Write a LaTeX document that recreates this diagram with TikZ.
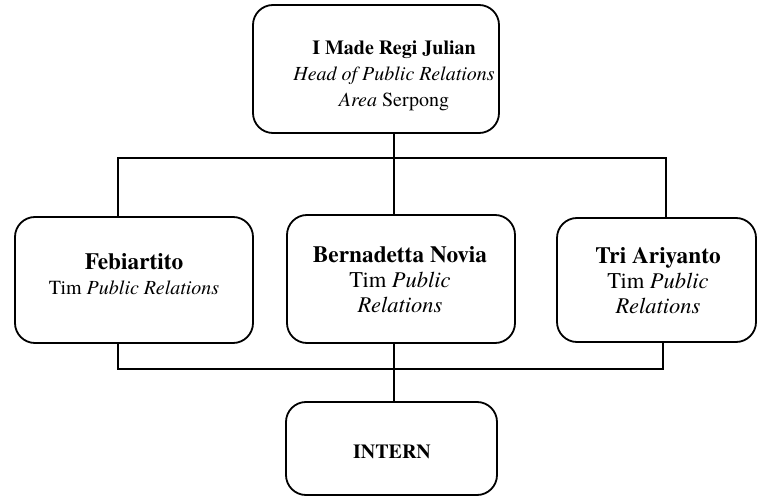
\documentclass[tikz,border=0pt]{standalone}
\usepackage{fontspec}
\setmainfont{TeX Gyre Termes}
\begin{document}
\begin{tikzpicture}[x=1pt,y=-1pt,
  box/.style={draw=black,line width=1.8pt,rounded corners=20pt,inner sep=0pt},
  conn/.style={draw=black,line width=1.4pt},
  txt/.style={align=center,inner sep=0pt}]
\fill[white] (0,0) rectangle (758,497);
\useasboundingbox (0,0) rectangle (758,497);
% boxes
\node[box,minimum width=246pt,minimum height=128pt] (boxT) at (376,69) {};
\node[box,minimum width=238pt,minimum height=126pt] (boxL) at (134,280) {};
\node[box,minimum width=228pt,minimum height=128pt] (boxM) at (401,279) {};
\node[box,minimum width=199pt,minimum height=124pt] (boxR) at (656.5,280) {};
\node[box,minimum width=211pt,minimum height=93pt] (boxI) at (391.5,448.5) {};
% texts
\node[txt,font=\fontsize{20}{26}\selectfont] (tT) at (394,76)
  {\textbf{I Made Regi Julian}\\ \textit{Head of Public Relations}\\ \textit{Area} Serpong};
\node[txt,font=\fontsize{20}{25}\selectfont] (tL) at (134,274.5)
  {{\fontsize{23.3}{25}\selectfont\textbf{Febiartito}}\\ Tim \textit{Public Relations}};
\node[txt,font=\fontsize{22.5}{25}\selectfont] (tM) at (400,280)
  {{\fontsize{23.3}{25}\selectfont\textbf{Bernadetta Novia}}\\ Tim \textit{Public}\\ \textit{Relations}};
\node[txt,font=\fontsize{22.5}{25}\selectfont] (tR) at (658,280.5)
  {{\fontsize{23.3}{25}\selectfont\textbf{Tri Ariyanto}}\\ Tim \textit{Public}\\ \textit{Relations}};
\node[txt,font=\fontsize{20}{24}\selectfont\bfseries] (tI) at (392,452) {INTERN};
% junctions
\coordinate (jTL) at (118,158);
\coordinate (jTM) at (394,158);
\coordinate (jTR) at (666,158);
\coordinate (jBL) at (118,369);
\coordinate (jBM) at (394,369);
\coordinate (jBR) at (663,369);
% connectors
\draw[conn] (jTL |- boxL.north) -- (jTL) -- (jTR) -- (jTR |- boxR.north);
\draw[conn] (jTM |- boxT.south) -- (jTM |- boxM.north);
\draw[conn] (jBL |- boxL.south) -- (jBL) -- (jBR) -- (jBR |- boxR.south);
\draw[conn] (jBM |- boxM.south) -- (jBM |- boxI.north);
\end{tikzpicture}
\end{document}
